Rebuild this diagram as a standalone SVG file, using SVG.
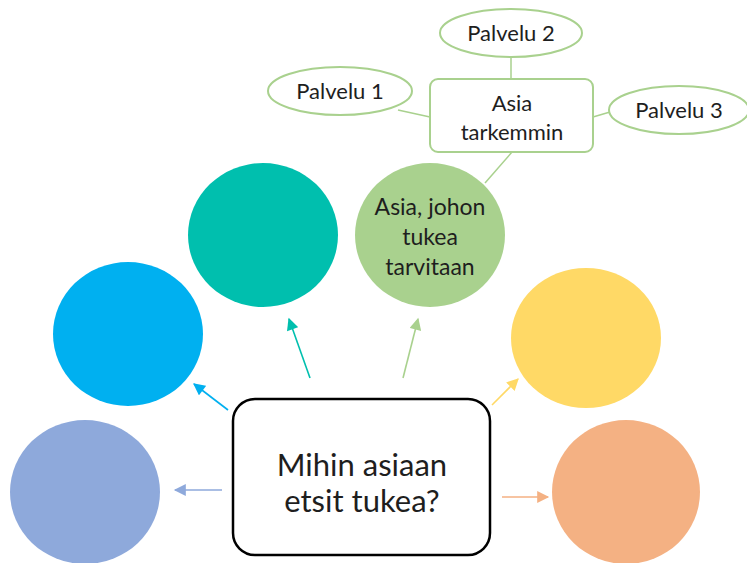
<svg xmlns="http://www.w3.org/2000/svg" width="747" height="563" viewBox="0 0 747 563">
<style>
.t{font-family:Lato,"Open Sans","Liberation Sans",sans-serif;fill:#1e1e1e;text-anchor:middle}
.pal{fill:#fff;stroke:#a9d18e;stroke-width:2}
.gl{stroke:#a9d18e;stroke-width:1.5;fill:none}
.ar{stroke-width:1.6;fill:none}
</style>
<defs>
<marker id="mBlue" viewBox="0 0 10 10" refX="9" refY="5" markerWidth="13" markerHeight="12" orient="auto" markerUnits="userSpaceOnUse"><path d="M0,0L10,5L0,10z" fill="#00b0f0"/></marker>
<marker id="mTeal" viewBox="0 0 10 10" refX="9" refY="5" markerWidth="13" markerHeight="12" orient="auto" markerUnits="userSpaceOnUse"><path d="M0,0L10,5L0,10z" fill="#00bfae"/></marker>
<marker id="mGreen" viewBox="0 0 10 10" refX="9" refY="5" markerWidth="13" markerHeight="12" orient="auto" markerUnits="userSpaceOnUse"><path d="M0,0L10,5L0,10z" fill="#a9d18e"/></marker>
<marker id="mYellow" viewBox="0 0 10 10" refX="9" refY="5" markerWidth="13" markerHeight="12" orient="auto" markerUnits="userSpaceOnUse"><path d="M0,0L10,5L0,10z" fill="#ffd966"/></marker>
<marker id="mGray" viewBox="0 0 10 10" refX="9" refY="5" markerWidth="13" markerHeight="12" orient="auto" markerUnits="userSpaceOnUse"><path d="M0,0L10,5L0,10z" fill="#8ea9db"/></marker>
<marker id="mOrange" viewBox="0 0 10 10" refX="9" refY="5" markerWidth="13" markerHeight="12" orient="auto" markerUnits="userSpaceOnUse"><path d="M0,0L10,5L0,10z" fill="#f4b183"/></marker>
</defs>
<g id="connectors">
<line class="gl" x1="511" y1="57" x2="511" y2="79"/>
<line class="gl" x1="398" y1="110" x2="430" y2="117"/>
<line class="gl" x1="593" y1="117" x2="610" y2="112"/>
<line class="gl" x1="512" y1="152" x2="485" y2="183"/>
<line class="ar" x1="228" y1="410" x2="194" y2="384" stroke="#00b0f0" marker-end="url(#mBlue)"/>
<line class="ar" x1="310" y1="378" x2="289" y2="319" stroke="#00bfae" marker-end="url(#mTeal)"/>
<line class="ar" x1="403" y1="378" x2="418" y2="319" stroke="#a9d18e" marker-end="url(#mGreen)"/>
<line class="ar" x1="492" y1="405" x2="518" y2="379" stroke="#ffd966" marker-end="url(#mYellow)"/>
<line class="ar" x1="222" y1="490" x2="175" y2="490" stroke="#8ea9db" marker-end="url(#mGray)"/>
<line class="ar" x1="502" y1="497" x2="548" y2="497" stroke="#f4b183" marker-end="url(#mOrange)"/>
</g>
<g id="palvelu2"><ellipse class="pal" cx="511" cy="33" rx="71" ry="24"/><text class="t" x="511" y="41" font-size="22">Palvelu 2</text></g>
<g id="palvelu1"><ellipse class="pal" cx="340" cy="91" rx="72" ry="24"/><text class="t" x="340" y="99" font-size="22">Palvelu 1</text></g>
<g id="palvelu3"><ellipse class="pal" cx="679" cy="110" rx="70" ry="24"/><text class="t" x="679" y="118" font-size="22">Palvelu 3</text></g>
<g id="asia-tarkemmin"><rect x="430" y="79" width="163" height="73" rx="8" fill="#fff" stroke="#a9d18e" stroke-width="2"/><text class="t" x="512" y="111" font-size="22">Asia</text><text class="t" x="512" y="140" font-size="22">tarkemmin</text></g>
<g id="teal"><ellipse cx="263" cy="235" rx="75" ry="72" fill="#00bfae"/></g>
<g id="green"><ellipse cx="430" cy="235" rx="75" ry="72" fill="#a9d18e"/><text class="t" x="430" y="215" font-size="23">Asia, johon</text><text class="t" x="430" y="245" font-size="23">tukea</text><text class="t" x="430" y="275" font-size="23">tarvitaan</text></g>
<g id="blue"><ellipse cx="128" cy="334" rx="75" ry="72" fill="#00b0f0"/></g>
<g id="yellow"><ellipse cx="586" cy="338" rx="75" ry="70" fill="#ffd966"/></g>
<g id="grayblue"><ellipse cx="85" cy="492" rx="75" ry="72" fill="#8ea9db"/></g>
<g id="orange"><ellipse cx="626" cy="492" rx="74" ry="72" fill="#f4b183"/></g>
<g id="center"><rect x="233" y="399" width="257" height="156" rx="22" fill="#fff" stroke="#000" stroke-width="2.5"/><text class="t" x="362" y="476" font-size="31">Mihin asiaan</text><text class="t" x="362" y="512" font-size="31">etsit tukea?</text></g>
</svg>
